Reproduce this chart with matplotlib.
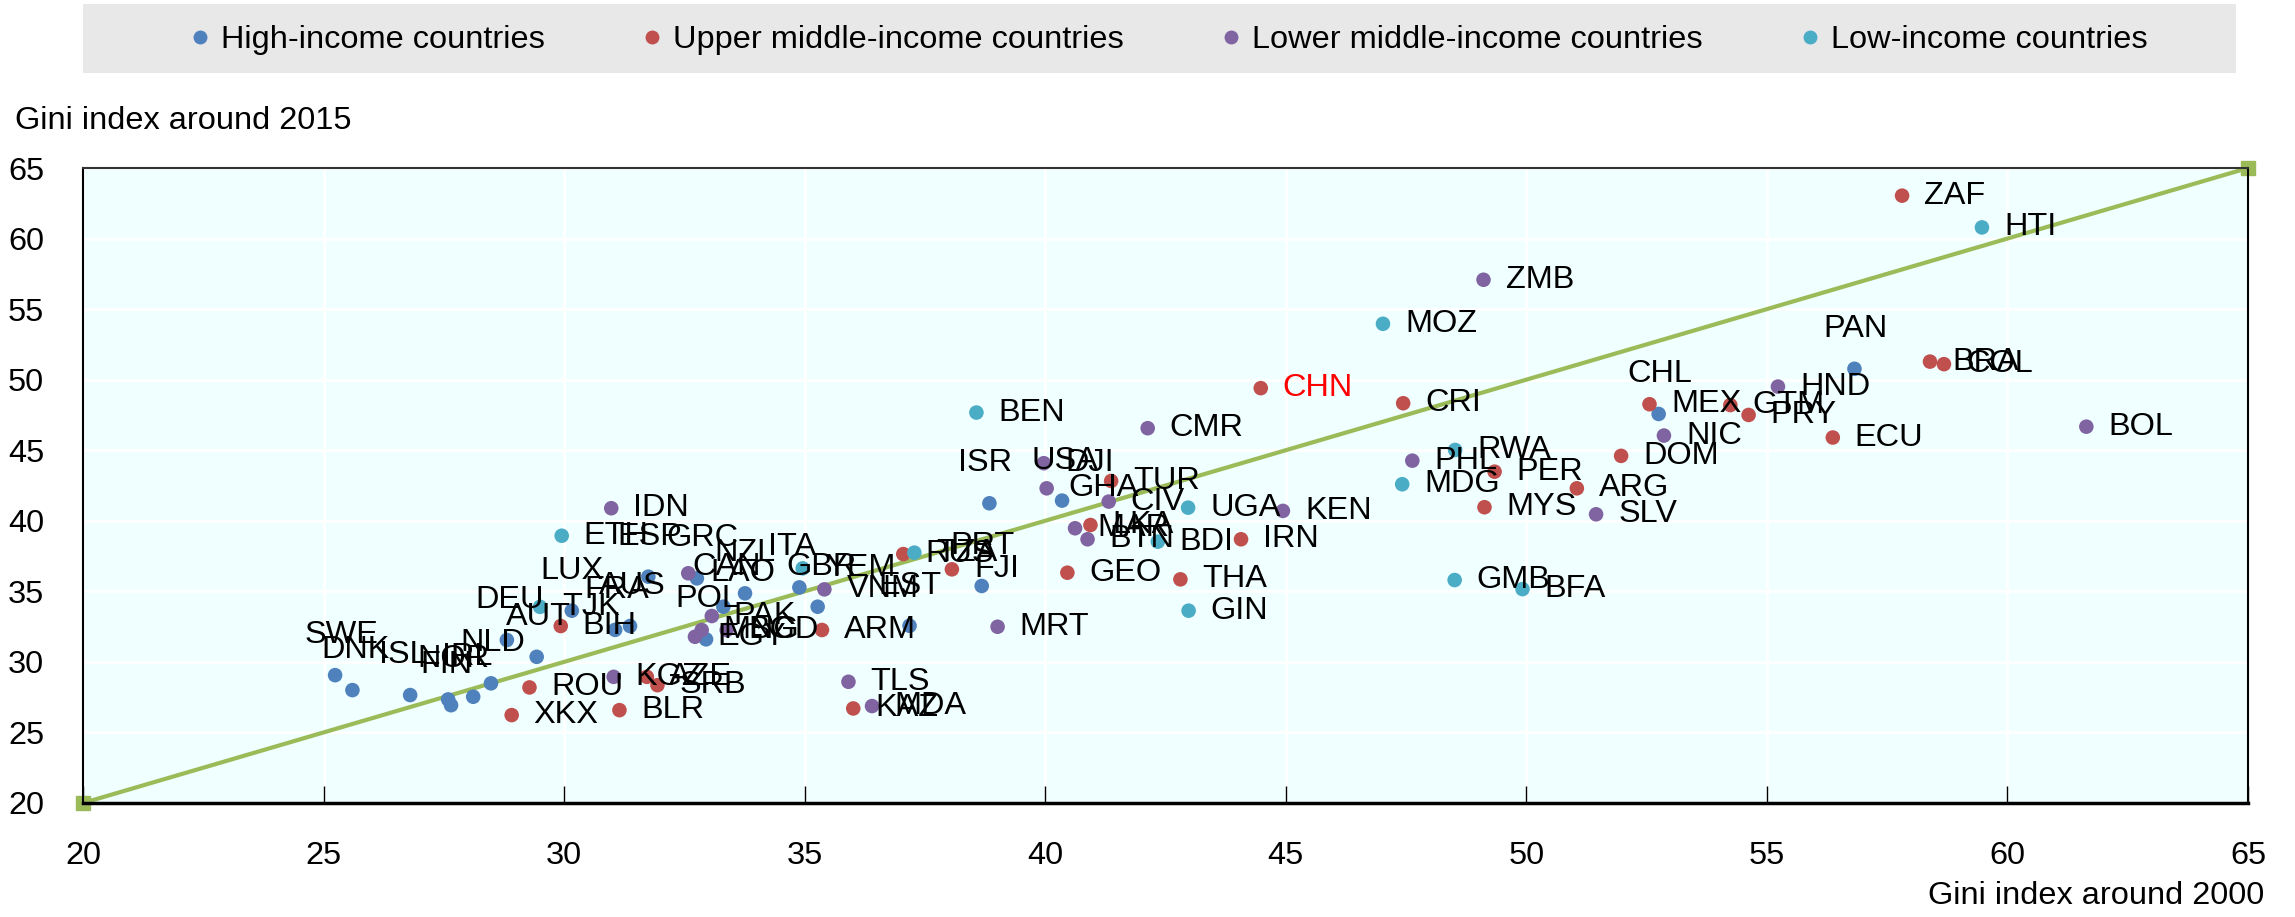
import matplotlib
matplotlib.use("Agg")
import matplotlib.pyplot as plt
from matplotlib.lines import Line2D
from matplotlib.patches import Rectangle

plt.rcParams['font.family'] = ['Liberation Sans', 'DejaVu Sans']

# Gini index around 2000 (x) and around 2015 (y), by income group
high_names = ['SWE', 'DNK', 'ISL', 'NOR', 'FIN', 'IRL', 'NLD', 'DEU', 'AUT', 'LUX',
              'FRA', 'AUS', 'ESP', 'GRC', 'NZL', 'ITA', 'CAN', 'GBR', 'POL', 'EST',
              'PRT', 'ISR', 'USA', 'CHL', 'PAN']
high_x = [25.24, 25.60, 26.80, 27.59, 27.65, 28.11, 28.48, 28.81, 29.43, 30.16,
          31.06, 31.37, 31.75, 32.76, 33.76, 34.89, 33.31, 35.27, 32.95, 37.18,
          38.68, 38.84, 40.35, 52.75, 56.82]
high_y = [29.06, 28.00, 27.65, 27.34, 26.93, 27.53, 28.48, 31.55, 30.36, 33.63,
          32.27, 32.54, 36.04, 35.92, 34.86, 35.28, 33.91, 33.91, 31.60, 32.56,
          35.38, 41.24, 41.43, 47.57, 50.77]

upper_names = ['BIH', 'ROU', 'XKX', 'AZE', 'SRB', 'BLR', 'ARM', 'KAZ', 'RUS', 'FJI',
               'LKA', 'TUR', 'GEO', 'THA', 'IRN', 'CHN', 'CRI', 'PER', 'MYS', 'ARG',
               'DOM', 'MEX', 'GTM', 'PRY', 'ECU', 'BRA', 'COL', 'ZAF']
upper_x = [29.93, 29.28, 28.91, 31.72, 31.94, 31.15, 35.36, 36.01, 37.05, 38.06,
           40.94, 41.37, 40.46, 42.81, 44.07, 44.48, 47.44, 49.34, 49.13, 51.05,
           51.97, 52.56, 54.24, 54.62, 56.37, 58.39, 58.68, 57.81]
upper_y = [32.54, 28.19, 26.23, 28.94, 28.35, 26.58, 32.26, 26.70, 37.64, 36.56,
           39.70, 42.82, 36.32, 35.85, 38.69, 49.40, 48.33, 43.48, 40.96, 42.30,
           44.60, 48.26, 48.20, 47.50, 45.90, 51.28, 51.10, 63.04]

lower_names = ['KGZ', 'IDN', 'LAO', 'PAK', 'MNG', 'EGY', 'BGD', 'VNM', 'TLS', 'MDA',
               'MRT', 'DJI', 'GHA', 'CIV', 'MAR', 'BTN', 'CMR', 'KEN', 'PHL', 'SLV',
               'NIC', 'HND', 'ZMB', 'BOL']
lower_x = [31.03, 30.98, 32.58, 33.07, 32.86, 32.72, 33.38, 35.41, 35.91, 36.40,
           39.01, 39.97, 40.03, 41.32, 40.62, 40.88, 42.13, 44.94, 47.63, 51.45,
           52.86, 55.23, 49.11, 61.64]
lower_y = [28.94, 40.89, 36.28, 33.25, 32.26, 31.78, 32.26, 35.14, 28.59, 26.87,
           32.49, 44.08, 42.30, 41.36, 39.47, 38.69, 46.56, 40.70, 44.26, 40.46,
           46.04, 49.51, 57.08, 46.67]

low_names = ['TJK', 'ETH', 'YEM', 'TZA', 'BEN', 'BDI', 'UGA', 'GIN', 'MOZ', 'MDG',
             'RWA', 'GMB', 'BFA', 'HTI']
low_x = [29.50, 29.95, 34.96, 37.28, 38.57, 42.34, 42.97, 42.98, 47.02, 47.42,
         48.52, 48.51, 49.92, 59.47]
low_y = [33.90, 38.94, 36.63, 37.74, 47.67, 38.52, 40.93, 33.63, 53.96, 42.59,
         45.02, 35.80, 35.16, 60.79]

groups = [
    ('High-income countries', '#4F81BD', high_names, high_x, high_y),
    ('Upper middle-income countries', '#C0504D', upper_names, upper_x, upper_y),
    ('Lower middle-income countries', '#8064A2', lower_names, lower_x, lower_y),
    ('Low-income countries', '#4BACC6', low_names, low_x, low_y),
]

W, H = 2295, 917
fig = plt.figure(figsize=(W / 100, H / 100), dpi=100)
ax = fig.add_axes([83 / W, 1 - 803 / H, (2248 - 83) / W, (803 - 168) / H])
ax.set_facecolor('#F0FFFF')

fs = 23.4
ax.plot([20, 65], [20, 65], color='#9BBB59', lw=3, marker='s', ms=10,
        clip_on=False, zorder=2)

handles = []
for label, color, names, xs, ys in groups:
    ax.scatter(xs, ys, s=110, color=color, edgecolors='none', zorder=3)
    for name, x, y in zip(names, xs, ys):
        # high-income labels sit above the dot, the others to its right
        if label.startswith('High'):
            off = (-31, 40)
        else:
            off = (22, 0)
        ax.annotate(name, (x, y), xytext=off, textcoords='offset pixels',
                    ha='left', va='center', fontsize=fs,
                    color='#FF0000' if name == 'CHN' else 'black', zorder=4)
    handles.append(Line2D([], [], ls='none', marker='o', ms=9, color=color,
                          label=label))

ax.set_xlim(20, 65)
ax.set_ylim(20, 65)
ax.set_xticks(range(20, 66, 5))
ax.set_yticks(range(20, 66, 5))
ax.grid(True, color='white', lw=2)
ax.set_axisbelow(True)
ax.tick_params(axis='x', direction='in', length=12, width=1, pad=27, labelsize=fs)
ax.tick_params(axis='y', length=0, pad=28, labelsize=fs)
for side in ['top', 'left', 'right']:
    ax.spines[side].set_linewidth(1.5)
ax.spines['top'].set_color('#333333')
ax.spines['bottom'].set_linewidth(2.5)

fig.text(15 / W, 1 - 121 / H, 'Gini index around 2015', fontsize=fs,
         ha='left', va='center')
fig.text(2264 / W, 1 - 896 / H, 'Gini index around 2000', fontsize=fs,
         ha='right', va='center')

# legend band
fig.patches.append(Rectangle((83 / W, 1 - 73 / H), (2236 - 83) / W, 69 / H,
                             transform=fig.transFigure, facecolor='#E8E8E8',
                             edgecolor='none', zorder=0))
fig.legend(handles=handles, loc='center', bbox_to_anchor=(1169 / W, 1 - 40 / H),
           ncol=4, frameon=False, fontsize=fs, handlelength=0.6,
           handletextpad=0.35, columnspacing=3.0, borderpad=0)

fig.savefig('out.png', dpi=100)
